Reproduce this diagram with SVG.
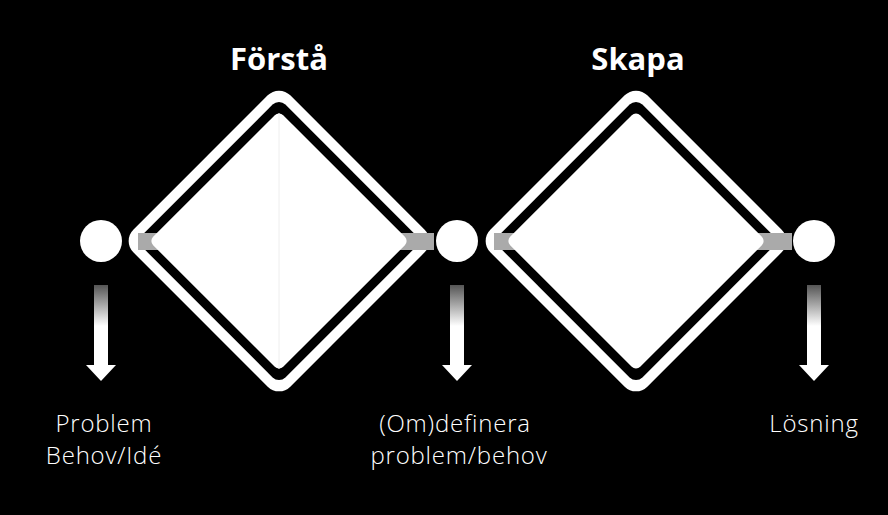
<svg xmlns="http://www.w3.org/2000/svg" width="888" height="515" viewBox="0 0 888 515">
<defs>
<linearGradient id="g" x1="0" y1="0" x2="0" y2="1"><stop offset="0" stop-color="#555"/><stop offset="0.5" stop-color="#fff"/></linearGradient>
<style>
.t{font-family:"Open Sans","Liberation Sans",sans-serif;fill:#fff;text-anchor:middle}
.h{font-size:31px;font-weight:bold}
.l{font-size:24px;font-weight:300;letter-spacing:0.8px}
</style>
</defs>
<rect width="888" height="515" fill="#000"/>
<g id="diamond1" transform="translate(279,241) rotate(45)">
<rect x="-111" y="-111" width="222" height="222" rx="16" fill="#fff"/>
<rect x="-101" y="-101" width="202" height="202" rx="9" fill="#000"/>
</g>
<g id="diamond2" transform="translate(636,241) rotate(45)">
<rect x="-111" y="-111" width="222" height="222" rx="16" fill="#fff"/>
<rect x="-101" y="-101" width="202" height="202" rx="9" fill="#000"/>
</g>
<g id="connectors">
<rect x="138" y="233" width="26" height="17" fill="#aaa"/>
<rect x="396" y="233" width="38" height="17" fill="#aaa"/>
<rect x="494" y="233" width="26" height="17" fill="#aaa"/>
<rect x="752" y="233" width="40" height="17" fill="#aaa"/>
<g fill="url(#g)">
<rect x="94" y="285" width="14" height="82"/><path d="M86 365 H116 L101 381 Z" fill="#fff"/>
<rect x="450" y="285" width="14" height="82"/><path d="M442 365 H472 L457 381 Z" fill="#fff"/>
<rect x="807" y="285" width="14" height="82"/><path d="M799 365 H829 L814 381 Z" fill="#fff"/>
</g>
</g>
<g transform="translate(279,241) rotate(45)"><rect x="-92" y="-92" width="184" height="184" rx="6" fill="#fff"/></g>
<g transform="translate(636,241) rotate(45)"><rect x="-92" y="-92" width="184" height="184" rx="6" fill="#fff"/></g>
<line x1="279" y1="113" x2="279" y2="369" stroke="#eee" stroke-width="1"/>
<g id="n1"><circle cx="101" cy="241" r="21" fill="#fff"/><text class="t l" x="104" y="432">Problem</text><text class="t l" x="104" y="464">Behov/Idé</text></g>
<g id="n2"><circle cx="457" cy="241" r="21" fill="#fff"/><text class="t l" x="455" y="432">(Om)definera</text><text class="t l" x="459" y="464">problem/behov</text></g>
<g id="n3"><circle cx="814" cy="241" r="21" fill="#fff"/><text class="t l" x="814" y="432">Lösning</text></g>
<text class="t h" x="279" y="70">Förstå</text>
<text class="t h" x="638" y="70">Skapa</text>
</svg>
